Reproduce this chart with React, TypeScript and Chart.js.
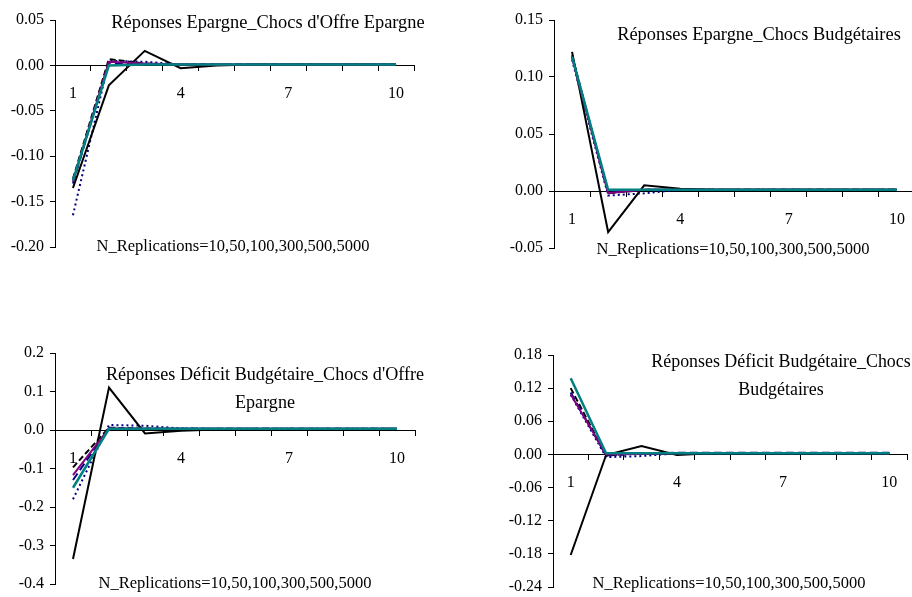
import React, { useEffect, useRef } from "react";
import { Chart, registerables } from "chart.js";
Chart.register(...registerables);

// ---------- data ----------
const periods = ["1", "2", "3", "4", "5", "6", "7", "8", "9", "10"];
const seriesNames = ["N=10", "N=50", "N=100", "N=300", "N=500", "N=5000"];
const noteText = "N_Replications=10,50,100,300,500,5000";

// Panel 1: Réponses Epargne_Chocs d'Offre Epargne
const p1Title = ["Réponses Epargne_Chocs d'Offre Epargne"];
const p1Ticks = [-0.2, -0.15, -0.1, -0.05, 0, 0.05];
const p1_n10 = [-0.135, -0.022, 0.016, -0.003, 0.0, 0.001, 0.001, 0.001, 0.001, 0.001];
const p1_n50 = [-0.125, 0.007, 0.002, 0.001, 0.001, 0.001, 0.001, 0.001, 0.001, 0.001];
const p1_n100 = [-0.165, 0.005, 0.004, 0.001, 0.001, 0.001, 0.001, 0.001, 0.001, 0.001];
const p1_n300 = [-0.128, 0.004, 0.002, 0.001, 0.001, 0.001, 0.001, 0.001, 0.001, 0.001];
const p1_n500 = [-0.13, 0.003, 0.001, 0.001, 0.001, 0.001, 0.001, 0.001, 0.001, 0.001];
const p1_n5000 = [-0.127, 0.0, 0.001, 0.001, 0.001, 0.001, 0.001, 0.001, 0.001, 0.001];

// Panel 2: Réponses Epargne_Chocs Budgétaires
const p2Title = ["Réponses Epargne_Chocs Budgétaires"];
const p2Ticks = [-0.05, 0, 0.05, 0.1, 0.15];
const p2_n10 = [0.122, -0.036, 0.005, 0.002, 0.001, 0.001, 0.001, 0.001, 0.001, 0.001];
const p2_n50 = [0.119, -0.002, 0.001, 0.001, 0.001, 0.001, 0.001, 0.001, 0.001, 0.001];
const p2_n100 = [0.115, -0.004, -0.002, 0.001, 0.001, 0.001, 0.001, 0.001, 0.001, 0.001];
const p2_n300 = [0.117, -0.002, 0.001, 0.001, 0.001, 0.001, 0.001, 0.001, 0.001, 0.001];
const p2_n500 = [0.118, -0.001, 0.001, 0.001, 0.001, 0.001, 0.001, 0.001, 0.001, 0.001];
const p2_n5000 = [0.118, 0.001, 0.001, 0.001, 0.001, 0.001, 0.001, 0.001, 0.001, 0.001];

// Panel 3: Réponses Déficit Budgétaire_Chocs d'Offre Epargne
const p3Title = ["Réponses Déficit Budgétaire_Chocs d'Offre", "Epargne"];
const p3Ticks = [-0.4, -0.3, -0.2, -0.1, 0, 0.1, 0.2];
const p3_n10 = [-0.335, 0.11, -0.009, -0.002, 0.001, 0.002, 0.002, 0.002, 0.002, 0.002];
const p3_n50 = [-0.097, 0.006, 0.004, 0.003, 0.003, 0.003, 0.003, 0.003, 0.003, 0.003];
const p3_n100 = [-0.18, 0.013, 0.011, 0.004, 0.003, 0.003, 0.003, 0.003, 0.003, 0.003];
const p3_n300 = [-0.117, 0.004, 0.003, 0.003, 0.003, 0.003, 0.003, 0.003, 0.003, 0.003];
const p3_n500 = [-0.13, 0.005, 0.003, 0.003, 0.003, 0.003, 0.003, 0.003, 0.003, 0.003];
const p3_n5000 = [-0.15, 0.003, 0.003, 0.003, 0.003, 0.003, 0.003, 0.003, 0.003, 0.003];

// Panel 4: Réponses Déficit Budgétaire_Chocs Budgétaires
const p4Title = ["Réponses Déficit Budgétaire_Chocs", "Budgétaires"];
const p4Ticks = [-0.24, -0.18, -0.12, -0.06, 0, 0.06, 0.12, 0.18];
const p4_n10 = [-0.182, -0.001, 0.015, -0.001, 0.002, 0.002, 0.002, 0.002, 0.002, 0.002];
const p4_n50 = [0.12, -0.002, 0.002, 0.002, 0.002, 0.002, 0.002, 0.002, 0.002, 0.002];
const p4_n100 = [0.108, -0.005, -0.003, 0.002, 0.002, 0.002, 0.002, 0.002, 0.002, 0.002];
const p4_n300 = [0.109, 0.0, 0.001, 0.002, 0.002, 0.002, 0.002, 0.002, 0.002, 0.002];
const p4_n500 = [0.112, -0.002, 0.002, 0.003, 0.003, 0.003, 0.003, 0.003, 0.003, 0.003];
const p4_n5000 = [0.138, 0.002, 0.002, 0.002, 0.002, 0.002, 0.002, 0.002, 0.002, 0.002];

// ---------- styles ----------
const FONT = "'Liberation Serif', 'Times New Roman', serif";
const seriesStyles = [
  { color: "#000000", width: 2, dash: [] as number[], order: 2 },
  { color: "#000000", width: 2, dash: [6, 3], order: 5 },
  { color: "#000080", width: 2, dash: [2, 3], order: 4 },
  { color: "#800080", width: 2, dash: [] as number[], order: 1 },
  { color: "#000080", width: 2, dash: [8, 4], order: 3 },
  { color: "#008080", width: 2.5, dash: [] as number[], order: 0 },
];

type PanelProps = {
  series: number[][];
  ticks: number[];
  decimals: number;
  title: string[];
  titleSize: number;
  canvas: { left: number; top: number; w: number; h: number };
  area: { left: number; top: number; right: number; bottom: number };
  titlePos: { x: number; y: number };
  notePos: { x: number; y: number };
};

const zeroPadding = (s: any) => {
  s.paddingTop = 0;
  s.paddingBottom = 0;
  s.paddingLeft = 0;
  s.paddingRight = 0;
};

function Panel(p: PanelProps) {
  const ref = useRef<HTMLCanvasElement | null>(null);
  useEffect(() => {
    if (!ref.current) return;
    const yMin = p.ticks[0];
    const yMax = p.ticks[p.ticks.length - 1];
    const yw = p.area.left;
    const chart = new Chart(ref.current, {
      type: "line",
      data: {
        labels: periods,
        datasets: p.series.map((d, i) => ({
          label: seriesNames[i],
          data: d,
          borderColor: seriesStyles[i].color,
          backgroundColor: seriesStyles[i].color,
          borderWidth: seriesStyles[i].width,
          borderDash: seriesStyles[i].dash,
          order: seriesStyles[i].order,
          pointRadius: 0,
          tension: 0,
          fill: false,
        })),
      },
      options: {
        animation: false,
        responsive: false,
        devicePixelRatio: 1,
        events: [],
        layout: {
          padding: {
            left: 0,
            top: p.area.top,
            right: p.canvas.w - p.area.right,
            bottom: p.canvas.h - p.area.bottom,
          },
        },
        plugins: {
          legend: { display: false },
          tooltip: { enabled: false },
          title: { display: false },
        },
        scales: {
          x: {
            type: "category",
            position: { y: 0 } as any,
            offset: true,
            afterFit: zeroPadding,
            grid: {
              offset: true,
              drawOnChartArea: false,
              drawTicks: true,
              tickLength: 5,
              color: "#000",
              lineWidth: 1,
            },
            border: { display: true, color: "#000", width: 1 },
            ticks: {
              autoSkip: false,
              maxRotation: 0,
              minRotation: 0,
              padding: 14,
              color: "#000",
              font: { family: FONT, size: 16 },
              callback: (_v: any, i: number) => (i % 3 === 0 ? periods[i] : ""),
            },
          },
          y: {
            min: yMin,
            max: yMax,
            afterFit: (s: any) => {
              s.width = yw;
              zeroPadding(s);
            },
            afterBuildTicks: (s: any) => {
              s.ticks = p.ticks.map((v) => ({ value: v }));
            },
            grid: {
              drawOnChartArea: false,
              drawTicks: true,
              tickLength: 5,
              color: "#000",
              lineWidth: 1,
            },
            border: { display: true, color: "#000", width: 1 },
            ticks: {
              padding: 6,
              color: "#000",
              font: { family: FONT, size: 16 },
              callback: (v: any) => Number(v).toFixed(p.decimals),
            },
          },
        },
      },
    });
    return () => chart.destroy();
  }, []);

  const textStyle: React.CSSProperties = {
    position: "absolute",
    transform: "translate(-50%, -50%)",
    fontFamily: FONT,
    color: "#000",
    whiteSpace: "nowrap",
    textAlign: "center",
  };

  return (
    <>
      <canvas
        ref={ref}
        width={p.canvas.w}
        height={p.canvas.h}
        style={{
          position: "absolute",
          left: p.canvas.left,
          top: p.canvas.top,
          width: p.canvas.w,
          height: p.canvas.h,
        }}
      />
      <div
        style={{
          ...textStyle,
          left: p.titlePos.x,
          top: p.titlePos.y,
          fontSize: p.titleSize,
          lineHeight: "28px",
        }}
      >
        {p.title.map((t, i) => (
          <div key={i}>{t}</div>
        ))}
      </div>
      <div
        style={{
          ...textStyle,
          left: p.notePos.x,
          top: p.notePos.y,
          fontSize: 16.5,
          lineHeight: "18px",
        }}
      >
        {noteText}
      </div>
    </>
  );
}

export default function App() {
  return (
    <div
      style={{
        position: "fixed",
        left: 0,
        top: 0,
        width: 912,
        height: 597,
        overflow: "hidden",
        background: "#fff",
      }}
    >
      <Panel
        series={[p1_n10, p1_n50, p1_n100, p1_n300, p1_n500, p1_n5000]}
        ticks={p1Ticks}
        decimals={2}
        title={p1Title}
        titleSize={18.4}
        canvas={{ left: 0, top: 0, w: 456, h: 298 }}
        area={{ left: 55, top: 20, right: 414, bottom: 247 }}
        titlePos={{ x: 268, y: 22 }}
        notePos={{ x: 233, y: 246 }}
      />
      <Panel
        series={[p2_n10, p2_n50, p2_n100, p2_n300, p2_n500, p2_n5000]}
        ticks={p2Ticks}
        decimals={2}
        title={p2Title}
        titleSize={18.4}
        canvas={{ left: 456, top: 0, w: 462, h: 298 }}
        area={{ left: 98, top: 20, right: 459, bottom: 248 }}
        titlePos={{ x: 759, y: 34 }}
        notePos={{ x: 733, y: 249 }}
      />
      <Panel
        series={[p3_n10, p3_n50, p3_n100, p3_n300, p3_n500, p3_n5000]}
        ticks={p3Ticks}
        decimals={1}
        title={p3Title}
        titleSize={18.1}
        canvas={{ left: 0, top: 298, w: 456, h: 299 }}
        area={{ left: 55, top: 55, right: 415, bottom: 286 }}
        titlePos={{ x: 265, y: 388 }}
        notePos={{ x: 235, y: 583 }}
      />
      <Panel
        series={[p4_n10, p4_n50, p4_n100, p4_n300, p4_n500, p4_n5000]}
        ticks={p4Ticks}
        decimals={2}
        title={p4Title}
        titleSize={17.9}
        canvas={{ left: 456, top: 298, w: 456, h: 299 }}
        area={{ left: 97, top: 57, right: 451, bottom: 289 }}
        titlePos={{ x: 781, y: 375 }}
        notePos={{ x: 729, y: 583 }}
      />
    </div>
  );
}
